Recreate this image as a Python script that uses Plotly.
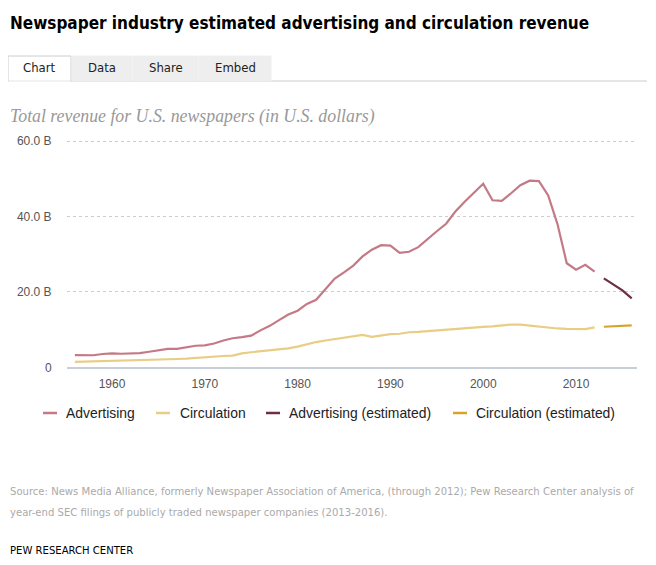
import plotly.graph_objects as go

# page offset: browser body margin is 8px
OFF = 8
W, H = 656 - OFF, 565 - OFF

years_hist = list(range(1956, 2013))
advertising = [3.22, 3.28, 3.19, 3.53, 3.68, 3.60, 3.66, 3.78, 4.12, 4.43,
               4.87, 4.91, 5.23, 5.71, 5.80, 6.30, 7.10, 7.70, 8.00, 8.40,
               9.80, 11.00, 12.50, 14.00, 15.00, 16.80, 17.90, 20.80, 23.55, 25.17,
               26.99, 29.41, 31.20, 32.40, 32.30, 30.35, 30.64, 31.87, 34.11, 36.09,
               38.08, 41.33, 43.93, 46.29, 48.70, 44.30, 44.15, 46.16, 48.30, 49.50,
               49.40, 45.60, 38.00, 27.60, 25.90, 27.20, 25.40]
circulation = [1.45, 1.50, 1.55, 1.60, 1.70, 1.75, 1.80, 1.85, 1.95, 2.00,
               2.10, 2.20, 2.30, 2.50, 2.60, 2.80, 3.00, 3.10, 3.70, 4.00,
               4.20, 4.40, 4.60, 5.00, 5.50, 6.20, 6.70, 7.10, 7.50, 7.80,
               8.20, 8.60, 8.10, 8.40, 8.80, 8.90, 9.30, 9.40, 9.60, 9.80,
               10.10, 10.30, 10.40, 10.60, 10.70, 10.85, 11.10, 11.35, 11.30, 11.00,
               10.80, 10.50, 10.30, 10.20, 10.20, 10.15, 10.60]
years_est = [2013, 2014, 2015, 2016]
advertising_est = [23.6, 22.1, 20.4, 18.3]
circulation_est = [10.75, 10.85, 11.0, 11.1]

y_tickvals = [0, 20, 40, 60]
y_ticktext = ["0", "20.0 B", "40.0 B", "60.0 B"]
x_tickvals = [1960, 1970, 1980, 1990, 2000, 2010]

series_names = ["Advertising", "Circulation", "Advertising (estimated)", "Circulation (estimated)"]
colors = ["#c47a86", "#e9cd84", "#6e2f43", "#d6a42a"]

NARROW = "Liberation Sans Narrow, DejaVu Sans Condensed, Arial Narrow, sans-serif"
SANS = "Liberation Sans, Arial, Helvetica, sans-serif"

fig = go.Figure()
series = [(years_hist, advertising), (years_hist, circulation),
          (years_est, advertising_est), (years_est, circulation_est)]
for (xs, ys), name, c in zip(series, series_names, colors):
    fig.add_trace(go.Scatter(x=xs, y=ys, mode="lines", name=name,
                             line=dict(color=c, width=2.2), showlegend=False,
                             hoverinfo="x+y"))


def px(x):
    return (x - OFF) / W


def py(y):
    return 1 - (y - OFF) / H


annotations = []
shapes = []


def note(text, x, y, size, color, family, xanchor="left"):
    annotations.append(dict(text=text, xref="paper", yref="paper", x=px(x), y=py(y),
                            xanchor=xanchor, yanchor="middle", showarrow=False,
                            font=dict(family=family, size=size, color=color)))


# Title
note("<b>Newspaper industry estimated advertising and circulation revenue</b>", 8, 23, 17, "#000000", NARROW)

# Tabs
tabs = [("Chart", 8, 71, "#ffffff"), ("Data", 72, 132, "#eeeeee"),
        ("Share", 133, 198, "#eeeeee"), ("Embed", 199, 271, "#eeeeee")]
shapes.append(dict(type="line", xref="paper", yref="paper", x0=px(71), x1=px(647),
                   y0=py(81), y1=py(81), line=dict(color="#cccccc", width=1)))
for label, x0, x1, fill in tabs:
    shapes.append(dict(type="rect", xref="paper", yref="paper", x0=px(x0), x1=px(x1),
                       y0=py(81), y1=py(56), fillcolor=fill,
                       line=dict(color="#cccccc" if label == "Chart" else fill, width=1)))
    note(label, (x0 + x1) / 2, 68, 13, "#222222", NARROW, xanchor="center")
shapes.append(dict(type="line", xref="paper", yref="paper", x0=px(8.6), x1=px(70.4),
                   y0=py(81), y1=py(81), line=dict(color="#ffffff", width=1)))

# Subtitle
note("<i>Total revenue for U.S. newspapers (in U.S. dollars)</i>", 8, 117, 17.8, "#999999",
     "Liberation Serif, Georgia, serif")

# Legend (custom)
legend_items = [(43, 64), (156, 178), (266, 287), (453, 474)]
for (lx, tx), name, c in zip(legend_items, series_names, colors):
    shapes.append(dict(type="line", xref="paper", yref="paper", x0=px(lx), x1=px(lx + 14),
                       y0=py(413), y1=py(413), line=dict(color=c, width=2.5)))
    note(name, tx, 413, 13.9, "#222222", SANS)

# Source
note("Source: News Media Alliance, formerly Newspaper Association of America, (through 2012); Pew Research Center analysis of",
     8, 491, 11.2, "#aaaaaa", NARROW)
note("year-end SEC filings of publicly traded newspaper companies (2013-2016).", 8, 512, 11.2, "#aaaaaa", NARROW)
note("PEW RESEARCH CENTER", 8, 550, 11.2, "#000000", NARROW)

Y0_PX, Y60_PX = 367.3, 141.1
PER_B = (Y0_PX - Y60_PX) / 60
YMAX = 60.4
ytop_px = Y0_PX - YMAX * PER_B

fig.update_layout(
    template="none",
    width=W, height=H, autosize=False,
    margin=dict(l=0, r=0, t=0, b=0, pad=0, autoexpand=False),
    paper_bgcolor="#ffffff", plot_bgcolor="#ffffff",
    showlegend=False,
    annotations=annotations, shapes=shapes,
    xaxis=dict(domain=[px(67), px(637)], range=[1955.15, 2016.57], automargin=False,
               tickmode="array", tickvals=x_tickvals, ticks="outside", ticklen=5,
               tickcolor="rgba(0,0,0,0)",
               showgrid=False, zeroline=False, showline=True, linecolor="#c7ced8", linewidth=1.5,
               tickfont=dict(family=SANS, size=12, color="#555555")),
    yaxis=dict(domain=[py(Y0_PX), py(ytop_px)], range=[0, YMAX], automargin=False,
               tickmode="array", tickvals=y_tickvals, ticktext=y_ticktext, ticks="outside",
               ticklen=12, tickcolor="rgba(0,0,0,0)", showgrid=True, gridcolor="#cccccc",
               griddash="dot", gridwidth=1, zeroline=False, showline=False,
               tickfont=dict(family=SANS, size=12, color="#555555")),
)

fig.write_html("out.html")
